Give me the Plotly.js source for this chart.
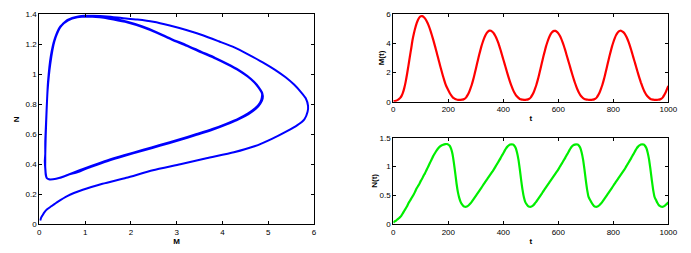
<!DOCTYPE html>
<html>
<head>
<meta charset="utf-8">
<script src="https://cdn.plot.ly/plotly-3.0.1.min.js"></script>
<style>html,body{margin:0;padding:0;background:#fff;}#chart{width:691px;height:253px;}</style>
</head>
<body>
<div id="chart"></div>
<script>
// time samples every 5 units, t = 0..1000
const tStart = 0, tStep = 5;
const M = [
  // t 0..240
  0.02,0.04,0.07,0.11,0.17,0.26,0.40,0.62,0.95,1.38,
  1.90,2.48,3.08,3.65,4.25,4.70,5.08,5.40,5.63,5.79,
  5.86,5.87,5.82,5.72,5.57,5.38,5.15,4.88,4.58,4.26,
  3.92,3.57,3.21,2.85,2.49,2.14,1.80,1.48,1.19,0.97,
  0.78,0.60,0.45,0.33,0.24,0.18,0.15,0.13,0.13,
  // t 245..475
  0.13,0.14,0.16,0.21,0.30,0.45,0.63,0.88,1.15,1.48,
  1.85,2.25,2.65,3.05,3.42,3.78,4.08,4.35,4.56,4.72,
  4.83,4.88,4.87,4.80,4.70,4.55,4.36,4.12,3.85,3.55,
  3.22,2.90,2.58,2.25,1.93,1.62,1.33,1.07,0.83,0.63,
  0.47,0.35,0.26,0.19,0.16,0.14,0.13,
  // t 480..715
  0.13,0.14,0.16,0.21,0.30,0.45,0.63,0.88,1.15,1.48,
  1.85,2.25,2.65,3.05,3.42,3.78,4.08,4.35,4.56,4.72,
  4.82,4.86,4.86,4.79,4.69,4.54,4.35,4.11,3.84,3.54,
  3.21,2.89,2.57,2.24,1.92,1.61,1.32,1.06,0.82,0.62,
  0.46,0.34,0.25,0.19,0.16,0.14,0.13,0.12,
  // t 720..955
  0.13,0.14,0.16,0.21,0.30,0.45,0.63,0.88,1.15,1.48,
  1.85,2.25,2.65,3.05,3.42,3.78,4.08,4.35,4.57,4.73,
  4.83,4.87,4.86,4.79,4.70,4.55,4.36,4.12,3.85,3.55,
  3.22,2.90,2.58,2.25,1.93,1.62,1.33,1.07,0.83,0.63,
  0.47,0.35,0.26,0.19,0.16,0.14,0.13,0.12,
  // t 960..1000
  0.13,0.14,0.16,0.21,0.30,0.45,0.63,0.86,1.08
];
const N = [
  // t 0..240
  0.025,0.045,0.06,0.08,0.10,0.12,0.15,0.19,0.23,0.27,
  0.31,0.36,0.40,0.44,0.48,0.52,0.57,0.62,0.66,0.70,
  0.75,0.79,0.84,0.88,0.93,0.98,1.03,1.08,1.13,1.18,
  1.22,1.26,1.295,1.325,1.35,1.365,1.375,1.385,1.39,1.39,
  1.38,1.36,1.31,1.22,1.07,0.89,0.70,0.55,0.45,
  // t 245..475
  0.38,0.34,0.31,0.30,0.30,0.31,0.33,0.355,0.385,0.42,
  0.455,0.49,0.525,0.56,0.595,0.63,0.665,0.70,0.735,0.77,
  0.805,0.84,0.875,0.91,0.945,0.985,1.025,1.065,1.105,1.145,
  1.19,1.23,1.275,1.315,1.345,1.365,1.38,1.385,1.38,1.36,
  1.32,1.24,1.12,0.95,0.76,0.59,0.46,
  // t 480..715
  0.38,0.34,0.31,0.30,0.30,0.31,0.33,0.36,0.39,0.425,
  0.46,0.495,0.53,0.565,0.60,0.635,0.67,0.705,0.74,0.775,
  0.81,0.845,0.88,0.915,0.95,0.99,1.03,1.07,1.11,1.15,
  1.195,1.235,1.28,1.32,1.35,1.37,1.38,1.385,1.38,1.36,
  1.32,1.24,1.12,0.95,0.76,0.59,0.47,0.42,
  // t 720..955
  0.38,0.34,0.31,0.30,0.30,0.31,0.33,0.355,0.385,0.42,
  0.455,0.49,0.525,0.56,0.595,0.63,0.665,0.70,0.735,0.77,
  0.805,0.84,0.875,0.91,0.945,0.985,1.025,1.065,1.105,1.145,
  1.19,1.23,1.275,1.315,1.345,1.365,1.38,1.385,1.38,1.36,
  1.32,1.24,1.12,0.95,0.76,0.59,0.47,0.42,
  // t 960..1000
  0.37,0.33,0.31,0.30,0.30,0.31,0.33,0.35,0.38
];
const T = M.map((_, i) => tStart + i * tStep);

const phaseXTicks = [0,1,2,3,4,5,6];
const phaseYTicks = [0,0.2,0.4,0.6,0.8,1,1.2,1.4];
const tTicks = [0,200,400,600,800,1000];
const mTicks = [0,2,4,6];
const nTicks = [0,0.5,1,1.5];
const nTickText = ['0','0.5','1','1.5'];

const font = {family: 'Liberation Sans, Arial, sans-serif', size: 8, color: '#000'};
function ax(extra) {
  return Object.assign({
    showgrid: false, zeroline: false, showline: true, linecolor: '#000', linewidth: 1,
    mirror: 'ticks', ticks: 'inside', ticklen: 3, tickcolor: '#000', tickwidth: 1,
    tickfont: font, fixedrange: true
  }, extra);
}
const titleFont = {family: 'Liberation Sans, Arial, sans-serif', size: 8, color: '#000', weight: 'bold'};

const data = [
  {x: M, y: N, mode: 'lines', line: {color: '#0000ff', width: 2, shape: 'spline', smoothing: 0.6}, xaxis: 'x', yaxis: 'y', hoverinfo: 'none'},
  {x: T, y: M, mode: 'lines', line: {color: '#ff0000', width: 2.2, shape: 'spline', smoothing: 0.6}, xaxis: 'x2', yaxis: 'y2', hoverinfo: 'none'},
  {x: T, y: N, mode: 'lines', line: {color: '#00ee00', width: 2.2, shape: 'spline', smoothing: 0.6}, xaxis: 'x3', yaxis: 'y3', hoverinfo: 'none'}
];

const layout = {
  width: 691, height: 253, showlegend: false,
  paper_bgcolor: '#fff', plot_bgcolor: '#fff',
  margin: {l: 0, r: 0, t: 0, b: 0},
  xaxis: ax({domain: [0.0569, 0.4544], range: [0, 6], tickvals: phaseXTicks, anchor: 'y',
    title: {text: 'M', font: titleFont, standoff: 2}}),
  yaxis: ax({domain: [0.1134, 0.9435], range: [0, 1.4], tickvals: phaseYTicks, anchor: 'x',
    title: {text: 'N', font: titleFont, standoff: 4}}),
  xaxis2: ax({domain: [0.5692, 0.9672], range: [0, 1000], tickvals: tTicks, anchor: 'y2',
    title: {text: 't', font: titleFont, standoff: 2}}),
  yaxis2: ax({domain: [0.598, 0.9435], range: [0, 6], tickvals: mTicks, anchor: 'x2',
    title: {text: 'M(t)', font: titleFont, standoff: 0}}),
  xaxis3: ax({domain: [0.5692, 0.9672], range: [0, 1000], tickvals: tTicks, anchor: 'y3',
    title: {text: 't', font: titleFont, standoff: 2}}),
  yaxis3: ax({domain: [0.1146, 0.4557], range: [0, 1.5], tickvals: nTicks, ticktext: nTickText, anchor: 'x3',
    title: {text: 'N(t)', font: titleFont, standoff: 0}})
};

Plotly.newPlot('chart', data, layout, {staticPlot: true, displayModeBar: false});
</script>
</body>
</html>
